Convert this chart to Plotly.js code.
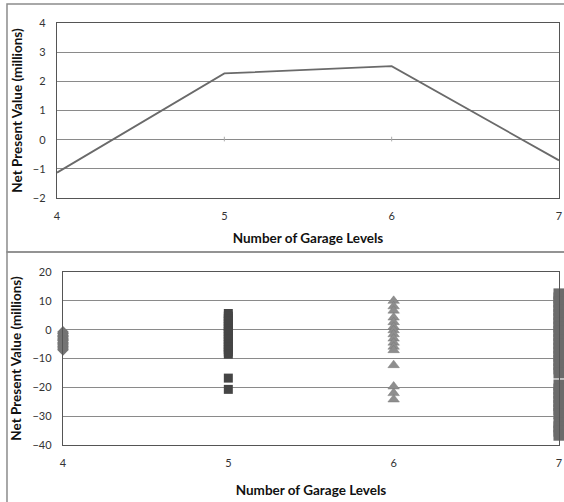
<!DOCTYPE html>
<html>
<head>
<meta charset="utf-8">
<script src="https://cdn.plot.ly/plotly-3.0.1.min.js"></script>
<style>html,body{margin:0;padding:0;background:#fff;}#chart{width:564px;height:502px;}</style>
</head>
<body>
<div id="chart"></div>
<script>
// ---- data ----
var garageLevels = [4, 5, 6, 7];
var expectedNPV = [-1.13, 2.27, 2.52, -0.71];

var npv4 = [-0.8, -1.3, -1.9, -2.4, -2.9, -3.3, -3.8, -4.4, -4.9, -5.3, -5.9, -6.4, -7.0];
var npv5 = [5.6, 4.7, 3.8, 2.9, 2.0, 1.1, 0.3, -0.6, -1.5, -2.4, -3.3, -4.2, -5.1, -6.0, -6.9, -7.7, -8.5, -16.8, -20.7];
var npv6 = [10.0, 8.1, 6.6, 4.2, 2.6, 1.0, -0.2, -1.6, -3.1, -4.5, -5.9, -7.1, -12.3, -19.7, -22.0, -24.2];
var npv7 = [12.4, 11.0, 9.6, 8.1, 6.7, 5.2, 3.8, 2.3, 0.9, -0.6, -2.0, -3.5, -4.9, -6.4, -7.8, -9.2, -10.7, -12.1, -13.6, -15.0,
            -19.2, -20.6, -22.0, -23.5, -24.9, -26.3, -27.8, -29.1, -32.3, -33.7, -35.2, -36.6];

var xTitle = 'Number of Garage Levels';
var yTitle = 'Net Present Value (millions)';

function rep(v, n){ var a=[]; for(var i=0;i<n;i++) a.push(v); return a; }

var FONT = 'Lato, "Open Sans", sans-serif';

var traces = [
  {x: garageLevels, y: expectedNPV, type: 'scatter', mode: 'lines', xaxis: 'x', yaxis: 'y',
   line: {color: '#6a6a6a', width: 1.8}, hoverinfo: 'x+y'},
  {x: rep(garageLevels[0], npv4.length), y: npv4, type: 'scatter', mode: 'markers', xaxis: 'x2', yaxis: 'y2',
   marker: {symbol: 'diamond', size: 9, color: '#747474'}, cliponaxis: false},
  {x: rep(garageLevels[1], npv5.length), y: npv5, type: 'scatter', mode: 'markers', xaxis: 'x2', yaxis: 'y2',
   marker: {symbol: 'square', size: 9, color: '#454545'}, cliponaxis: false},
  {x: rep(garageLevels[2], npv6.length), y: npv6, type: 'scatter', mode: 'markers', xaxis: 'x2', yaxis: 'y2',
   marker: {symbol: 'triangle-up', size: 10, color: '#8e8e8e', line: {color: '#7a7a7a', width: 0.5}}, cliponaxis: false},
  {x: rep(garageLevels[3], npv7.length), y: npv7, type: 'scatter', mode: 'markers', xaxis: 'x2', yaxis: 'y2',
   marker: {symbol: 'square', size: 11, color: '#6b6b6b'}, cliponaxis: false}
];

function xAxis(domain, anchor, standoff){
  return {domain: domain, anchor: anchor, range: [4, 7], tickvals: garageLevels, ticktext: garageLevels.map(String),
    showgrid: false, zeroline: false, showline: true, linecolor: '#555', linewidth: 1.2, mirror: true,
    ticks: '', ticklabelstandoff: 8, tickfont: {family: FONT, size: 11, color: '#333'},
    title: {text: xTitle, font: {family: FONT, size: 13.5, color: '#111', weight: 'bold'}, standoff: standoff},
    automargin: false, fixedrange: true};
}
function yAxis(domain, anchor, range, dtick){
  return {domain: domain, anchor: anchor, range: range, dtick: dtick, tick0: 0,
    showgrid: true, gridcolor: '#8a8a8a', gridwidth: 1, zeroline: false,
    showline: true, linecolor: '#555', linewidth: 1.2, mirror: true,
    ticks: '', ticklabelstandoff: 8, tickfont: {family: FONT, size: 11, color: '#333'},
    title: {text: yTitle, font: {family: FONT, size: 13.5, color: '#111', weight: 'bold'}, standoff: 7},
    automargin: false, fixedrange: true};
}

var layout = {
  width: 564, height: 502,
  margin: {l: 0, r: 0, t: 0, b: 0},
  paper_bgcolor: '#fff', plot_bgcolor: '#fff',
  showlegend: false,
  xaxis: xAxis([0.1011, 0.9911], 'y', 12),
  yaxis: yAxis([0.6056, 0.9542], 'x', [-2, 4], 1),
  xaxis2: xAxis([0.1117, 0.9911], 'y2', 17),
  yaxis2: yAxis([0.1135, 0.4582], 'x2', [-40, 20], 10),
  shapes: [
    {type: 'rect', xref: 'paper', yref: 'paper', x0: 0.0124, x1: 1.02, y0: 0.498, y1: 0.992,
     line: {color: '#8c8c8c', width: 1.5}, layer: 'below'},
    {type: 'rect', xref: 'paper', yref: 'paper', x0: 0.0124, x1: 1.02, y0: -0.02, y1: 0.498,
     line: {color: '#8c8c8c', width: 1.5}, layer: 'below'},
    {type: 'line', xref: 'x', yref: 'y', x0: 5, x1: 5, y0: -0.06, y1: 0.1, line: {color: '#aaa', width: 1}},
    {type: 'line', xref: 'x', yref: 'y', x0: 6, x1: 6, y0: -0.06, y1: 0.1, line: {color: '#aaa', width: 1}}
  ]
};

Plotly.newPlot('chart', traces, layout, {staticPlot: true, displayModeBar: false});
</script>
</body>
</html>
